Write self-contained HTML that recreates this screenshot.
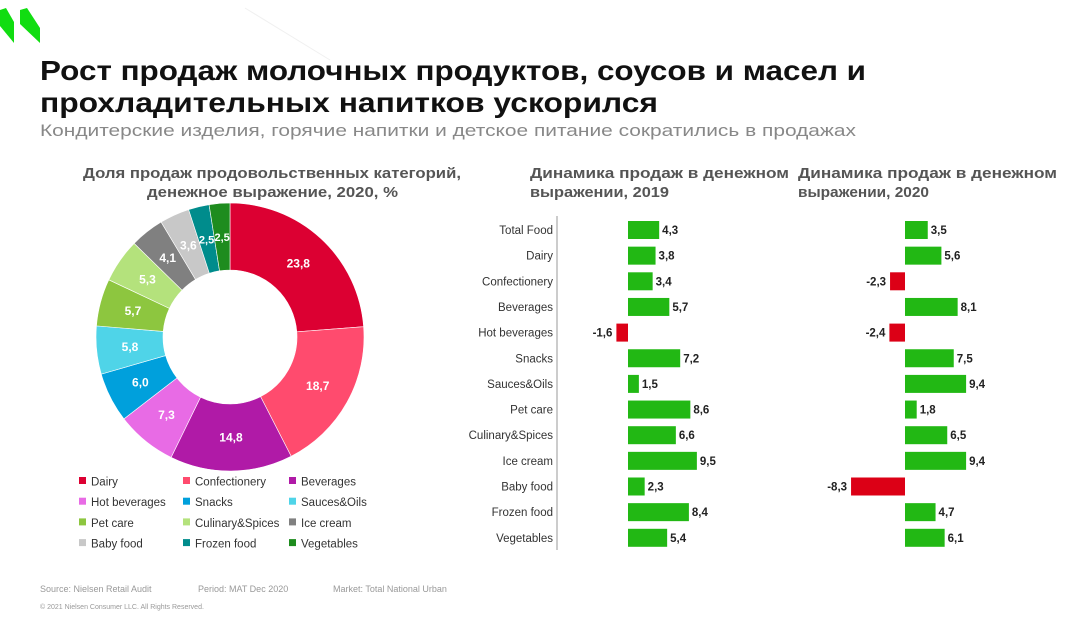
<!DOCTYPE html>
<html><head><meta charset="utf-8"><style>
body{margin:0;background:#fff;}
svg{display:block;font-family:"Liberation Sans","DejaVu Sans",sans-serif;}
</style></head><body>
<svg id="s" width="1071" height="622" viewBox="0 0 1071 622" xmlns="http://www.w3.org/2000/svg">
<rect width="1071" height="622" fill="#fff"/>
<line x1="245" y1="8" x2="330" y2="60" stroke="#f0f0f0" stroke-width="1"/>
<polygon points="0,10 6,8 14,22 14,43 0,26" fill="#11dd11"/>
<polygon points="20,10 27,8 40,28 40,43 20,24" fill="#11dd11"/>
<text x="40" y="80" font-size="28" font-weight="bold" fill="#111" textLength="826" lengthAdjust="spacingAndGlyphs">Рост продаж молочных продуктов, соусов и масел и</text>
<text x="40" y="112" font-size="28" font-weight="bold" fill="#111" textLength="618" lengthAdjust="spacingAndGlyphs">прохладительных напитков ускорился</text>
<text x="40" y="136" font-size="17" fill="#888" textLength="816" lengthAdjust="spacingAndGlyphs">Кондитерские изделия, горячие напитки и детское питание сократились в продажах</text>
<g font-size="15" font-weight="bold" fill="#555">
<text x="83" y="178" textLength="378" lengthAdjust="spacingAndGlyphs">Доля продаж продовольственных категорий,</text>
<text x="147" y="197" textLength="251" lengthAdjust="spacingAndGlyphs">денежное выражение, 2020, %</text>
<text x="530" y="178" textLength="259" lengthAdjust="spacingAndGlyphs">Динамика продаж в денежном</text>
<text x="530" y="197" textLength="139" lengthAdjust="spacingAndGlyphs">выражении, 2019</text>
<text x="798" y="178" textLength="259" lengthAdjust="spacingAndGlyphs">Динамика продаж в денежном</text>
<text x="798" y="197" textLength="131" lengthAdjust="spacingAndGlyphs">выражении, 2020</text>
</g>
<line x1="557" y1="216" x2="557" y2="550" stroke="#bbb" stroke-width="1.5"/>
<g id="donut"></g>
<g id="bars"></g>
<g id="legend" font-size="11.5" fill="#333"></g>
<g font-size="9" fill="#999">
<text x="40" y="592">Source: Nielsen Retail Audit</text>
<text x="198" y="592">Period: MAT Dec 2020</text>
<text x="333" y="592">Market: Total National Urban</text>
<text x="40" y="609" font-size="7">© 2021 Nielsen Consumer LLC. All Rights Reserved.</text>
</g>
</svg>
<script>
var NS="http://www.w3.org/2000/svg";
function el(t,a,p,txt){var e=document.createElementNS(NS,t);for(var k in a)e.setAttribute(k,a[k]);if(txt!=null)e.textContent=txt;p.appendChild(e);return e;}
var cats=[["Dairy",23.8,"#dc0032"],["Confectionery",18.7,"#ff4b6e"],["Beverages",14.8,"#b01aa7"],["Hot beverages",7.3,"#e86be5"],["Snacks",6.0,"#00a0dc"],["Sauces&Oils",5.8,"#4fd4e8"],["Pet care",5.7,"#8dc63f"],["Culinary&Spices",5.3,"#b4e27c"],["Ice cream",4.1,"#808080"],["Baby food",3.6,"#c8c8c8"],["Frozen food",2.5,"#008c8c"],["Vegetables",2.5,"#1e8c1e"]];
var d=document.getElementById("donut"),cx=230,cy=337,R=134,r=67,tot=100.1,a0=0;
cats.forEach(function(c){var a1=a0+c[1]/tot*2*Math.PI;
function P(rr,a){return [cx+rr*Math.sin(a),cy-rr*Math.cos(a)];}
var p1=P(R,a0),p2=P(R,a1),p3=P(r,a1),p4=P(r,a0),lg=(a1-a0)>Math.PI?1:0;
el("path",{d:"M"+p1+"A"+R+","+R+" 0 "+lg+" 1 "+p2+"L"+p3+"A"+r+","+r+" 0 "+lg+" 0 "+p4+"Z",fill:c[2],stroke:"#fff","stroke-width":"0.6"},d);
var m=(a0+a1)/2,pl=P((R+r)/2,m);
el("text",{x:pl[0],y:pl[1]+4,"text-anchor":"middle","font-size":c[1]<3?"11":"12","font-weight":"bold",fill:"#fff"},d,c[1].toFixed(1).replace(".",","));
a0=a1;});
var lg=document.getElementById("legend");
cats.forEach(function(c,i){var col=i%3,row=Math.floor(i/3);var x=[79,183,289][col],y=481+row*20.7;
el("rect",{x:x,y:y-4,width:7,height:7,fill:c[2]},lg);el("text",{x:x+12,y:y+4.5},lg,c[0]);});
var rows=[["Total Food",4.3,3.5],["Dairy",3.8,5.6],["Confectionery",3.4,-2.3],["Beverages",5.7,8.1],["Hot beverages",-1.6,-2.4],["Snacks",7.2,7.5],["Sauces&Oils",1.5,9.4],["Pet care",8.6,1.8],["Culinary&Spices",6.6,6.5],["Ice cream",9.5,9.4],["Baby food",2.3,-8.3],["Frozen food",8.4,4.7],["Vegetables",5.4,6.1]];
var b=document.getElementById("bars");
rows.forEach(function(rw,i){var y=230+i*25.65;
el("text",{x:553,y:y+4,"text-anchor":"end","font-size":"11.5",fill:"#333"},b,rw[0]);
[[628,7.25,rw[1]],[905,6.5,rw[2]]].forEach(function(s){var v=s[2],w=Math.abs(v)*s[1],neg=v<0;
el("rect",{x:neg?s[0]-w:s[0],y:y-9,width:w,height:18,fill:neg?"#dc0016":"#22b814"},b);
el("text",{x:neg?s[0]-w-4:s[0]+w+3,y:y+4,"text-anchor":neg?"end":"start","font-size":"11.5","font-weight":"bold",fill:"#222"},b,v.toFixed(1).replace(".",","));});});
</script>
</body></html>
